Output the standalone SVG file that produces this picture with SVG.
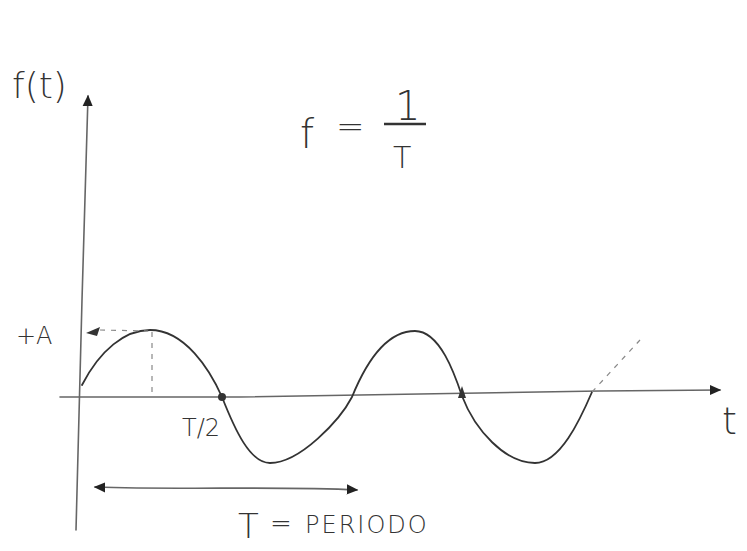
<svg xmlns="http://www.w3.org/2000/svg" width="747" height="551" viewBox="0 0 747 551">
<style>
.ax{fill:none;stroke:#666;stroke-width:1.6;stroke-linecap:round}
.wave{fill:none;stroke:#333;stroke-width:1.8;stroke-linecap:round}
.faint{fill:none;stroke:#888;stroke-width:1.2;stroke-dasharray:5 6}
.hand{font-family:"DejaVu Sans",sans-serif;fill:#333;font-weight:300}
</style>
<defs>
<marker id="ah" viewBox="0 0 10 10" refX="8" refY="5" markerWidth="8" markerHeight="8" orient="auto-start-reverse">
<path d="M0,1 L9,5 L0,9 Z" fill="#222"/>
</marker>
</defs>
<rect width="747" height="551" fill="#fff"/>
<g id="axes">
<path class="ax" d="M76,530 L82,300 L88,96" marker-end="url(#ah)"/>
<path class="ax" d="M60,397 L240,397 L600,391 L720,390" marker-end="url(#ah)"/>
</g>
<g id="wave">
<path class="wave" d="M82,385 C100,350 125,330 150,330 C185,330 210,370 222,397 C235,430 250,463 270,463 C300,463 340,420 352,397 C365,365 385,331 415,331 C440,331 455,375 462,396 C475,430 505,463 535,463 C560,463 580,420 592,392"/>
<path class="faint" d="M592,392 L640,340"/>
<path class="faint" d="M152,332 L152,393"/>
<path class="faint" d="M100,330 L148,331"/>
<path d="M86,333 L100,327 L97,336 Z" fill="#333"/>
<circle cx="222" cy="397" r="4" fill="#333"/>
<path d="M462,386 L466,398 L458,398 Z" fill="#333"/>
</g>
<g id="period">
<path class="ax" d="M95,487 C180,490 280,486 357,490" marker-start="url(#ah)" marker-end="url(#ah)"/>
</g>
<g id="labels">
<text class="hand" x="12" y="98" font-size="36">f(t)</text>
<text class="hand" x="300" y="148" font-size="40">f</text>
<text class="hand" x="336" y="138" font-size="34">=</text>
<text class="hand" x="395" y="120" font-size="40">1</text>
<line x1="384" y1="124" x2="426" y2="124" stroke="#333" stroke-width="2.5"/>
<text class="hand" x="393" y="168" font-size="30">T</text>
<text class="hand" x="16" y="344" font-size="24">+A</text>
<text class="hand" x="182" y="436" font-size="24">T/2</text>
<text class="hand" x="238" y="538" font-size="34">T</text>
<text class="hand" x="270" y="532" font-size="26">=</text>
<text class="hand" x="305" y="533" font-size="24" letter-spacing="2">PERIODO</text>
<text class="hand" x="722" y="434" font-size="38">t</text>
</g>
</svg>
